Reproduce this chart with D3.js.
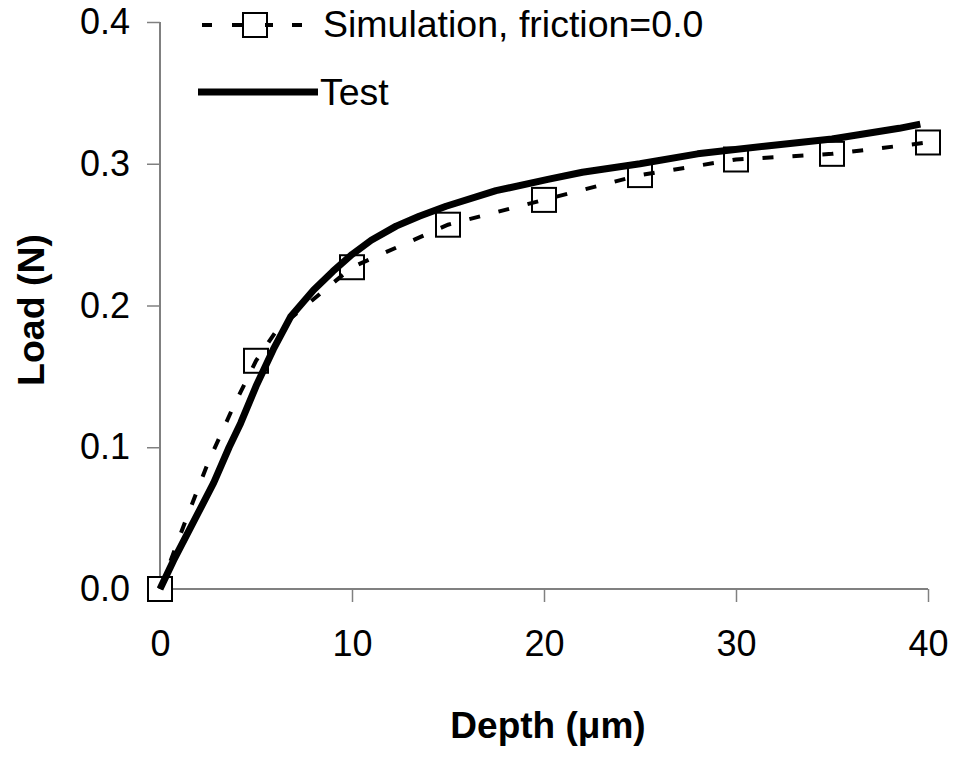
<!DOCTYPE html>
<html>
<head>
<meta charset="utf-8">
<script src="https://cdn.jsdelivr.net/npm/d3@7"></script>
<style>
  html, body { margin: 0; padding: 0; background: #fff; }
  svg text { font-family: Arial, "Liberation Sans", sans-serif; fill: #000; }
</style>
</head>
<body>
<svg id="chart" width="956" height="772"></svg>
<script>
// ---- data ----
const simMarkerDepth = [0, 5, 10, 15, 20, 25, 30, 35, 40];
const simMarkerLoad  = [0.0, 0.161, 0.227, 0.257, 0.2745, 0.292, 0.303, 0.307, 0.315];
const simLineDepth = [0, 1.3, 2.5, 3.8, 5, 6.1, 10, 15, 20, 25, 30, 35, 40];
const simLineLoad  = [0.0, 0.047, 0.089, 0.128, 0.161, 0.183, 0.227, 0.257, 0.2745, 0.292, 0.303, 0.307, 0.315];
const testDepth = [0, 0.7, 2.0, 2.8, 3.6, 4.2, 5.0, 5.9, 6.8, 8.0, 9.0, 10.0, 11.0, 12.3, 13.5, 14.9, 17.5, 20.2, 22.0, 25.0, 28.0, 31.6, 35.0, 38.5, 39.6];
const testLoad  = [0.0, 0.020, 0.054, 0.075, 0.100, 0.117, 0.143, 0.169, 0.192, 0.211, 0.224, 0.236, 0.246, 0.256, 0.263, 0.270, 0.281, 0.289, 0.294, 0.300, 0.307, 0.3125, 0.3175, 0.325, 0.328];
const xTicks = [0, 10, 20, 30, 40];
const yTicks = [0.0, 0.1, 0.2, 0.3, 0.4];
const seriesNames = ["Simulation, friction=0.0", "Test"];
const xTitle = "Depth (\u03bcm)";
const yTitle = "Load (N)";

// ---- layout ----
const svg = d3.select("#chart");
const x = d3.scaleLinear().domain([0, 40]).range([160, 928]);
const y = d3.scaleLinear().domain([0, 0.4]).range([589, 22]);
const axisColor = "#808080";

// axes
const xAxis = svg.append("g").attr("transform", `translate(0,${y(0)})`)
  .call(d3.axisBottom(x).tickValues(xTicks).tickFormat(d3.format("d")).tickSize(13).tickPadding(28));
const yAxis = svg.append("g").attr("transform", `translate(${x(0)},0)`)
  .call(d3.axisLeft(y).tickValues(yTicks).tickFormat(d3.format(".1f")).tickSize(13).tickPadding(17));
[xAxis, yAxis].forEach(g => {
  g.select(".domain").attr("stroke", axisColor).attr("stroke-width", 2);
  g.selectAll(".tick line").attr("stroke", axisColor).attr("stroke-width", 1.5);
  g.selectAll(".tick text").attr("font-size", 36).attr("fill", "#000")
    .style("font-family", "Arial, 'Liberation Sans', sans-serif");
});
xAxis.select(".domain").attr("d", `M${x(0)},0H${x(40)}`);
yAxis.select(".domain").attr("d", `M0,${y(0)}V${y(0.4)}`);

// simulation markers
svg.append("g").selectAll("rect").data(simMarkerDepth).join("rect")
  .attr("x", (d) => x(d) - 12).attr("y", (d, i) => y(simMarkerLoad[i]) - 12)
  .attr("width", 24).attr("height", 24)
  .attr("fill", "#fff").attr("stroke", "#000").attr("stroke-width", 2);

// simulation dashed line
const lineGen = d3.line().x(d => x(d[0])).y(d => y(d[1]));
svg.append("path")
  .datum(simLineDepth.map((d, i) => [d, simLineLoad[i]]))
  .attr("d", lineGen)
  .attr("fill", "none").attr("stroke", "#000").attr("stroke-width", 4)
  .attr("stroke-dasharray", "11,19");

// test line
svg.append("path")
  .datum(testDepth.map((d, i) => [d, testLoad[i]]))
  .attr("d", lineGen)
  .attr("fill", "none").attr("stroke", "#000").attr("stroke-width", 7)
  .attr("stroke-linejoin", "round");

// legend
const lg = svg.append("g");
lg.append("line").attr("x1", 202).attr("x2", 302).attr("y1", 25).attr("y2", 25)
  .attr("stroke", "#000").attr("stroke-width", 4).attr("stroke-dasharray", "10,20");
lg.append("rect").attr("x", 243).attr("y", 13).attr("width", 24).attr("height", 24)
  .attr("fill", "#fff").attr("stroke", "#000").attr("stroke-width", 2);
lg.append("line").attr("x1", 265).attr("x2", 273).attr("y1", 25).attr("y2", 25)
  .attr("stroke", "#000").attr("stroke-width", 4);
lg.append("text").attr("x", 323).attr("y", 37).attr("font-size", 37.5).text(seriesNames[0]);
lg.append("line").attr("x1", 198).attr("x2", 318).attr("y1", 92).attr("y2", 92)
  .attr("stroke", "#000").attr("stroke-width", 7);
lg.append("text").attr("x", 320).attr("y", 105).attr("font-size", 37.5).text(seriesNames[1]);

// axis titles
svg.append("text").attr("x", 548).attr("y", 738).attr("text-anchor", "middle")
  .attr("font-size", 37).attr("font-weight", "bold").text(xTitle);
svg.append("text").attr("transform", "translate(44,310) rotate(-90)").attr("text-anchor", "middle")
  .attr("font-size", 37.5).attr("font-weight", "bold").text(yTitle);
</script>
</body>
</html>
